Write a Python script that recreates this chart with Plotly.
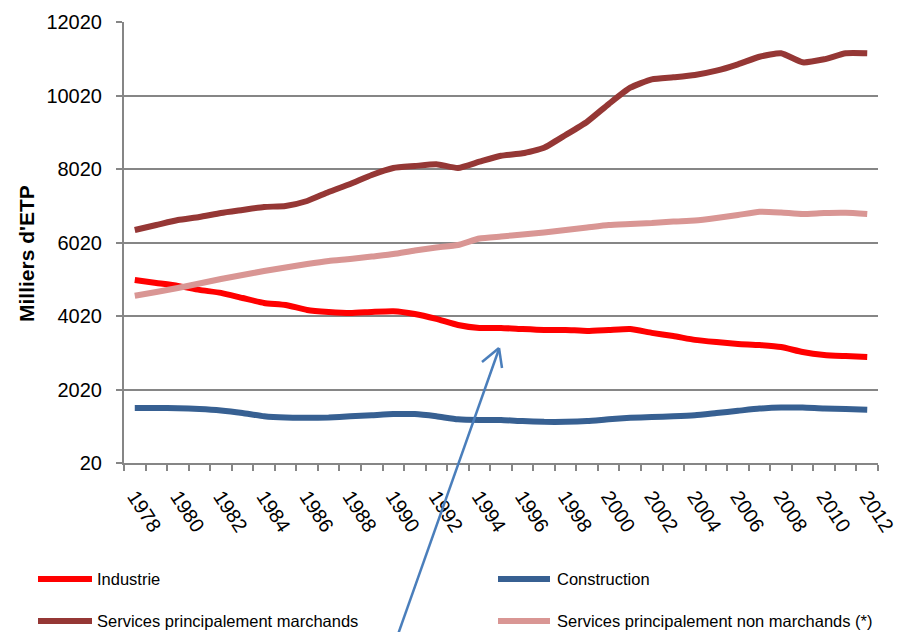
import plotly.graph_objects as go

years = list(range(1978, 2013))

industrie = [5000, 4920, 4840, 4730, 4650, 4510, 4375, 4320, 4185, 4130, 4100, 4130, 4150,
             4075, 3940, 3775, 3695, 3695, 3665, 3640, 3640, 3615, 3640, 3665, 3560, 3475,
             3370, 3310, 3260, 3230, 3175, 3040, 2960, 2930, 2905]

construction = [1517, 1517, 1510, 1490, 1450, 1380, 1290, 1255, 1250, 1260, 1290, 1320, 1350,
                1350, 1290, 1210, 1190, 1190, 1160, 1140, 1140, 1160, 1210, 1250, 1270, 1290,
                1320, 1380, 1440, 1500, 1530, 1530, 1500, 1490, 1470]

marchands = [6360, 6496, 6632, 6714, 6822, 6904, 6986, 7013, 7149, 7394, 7612, 7857, 8047,
             8101, 8150, 8047, 8219, 8382, 8447, 8599, 8945, 9307, 9788, 10232, 10460, 10515,
             10578, 10695, 10869, 11075, 11168, 10923, 11005, 11168, 11168]

non_marchands = [4572, 4673, 4782, 4904, 5027, 5136, 5244, 5340, 5435, 5517, 5571, 5639, 5707,
                 5802, 5884, 5952, 6129, 6183, 6238, 6292, 6360, 6428, 6496, 6523, 6550, 6591,
                 6618, 6686, 6768, 6858, 6836, 6795, 6823, 6830, 6795]

series_names = ["Industrie", "Construction", "Services principalement marchands",
                "Services principalement non marchands (*)"]
series_values = [industrie, construction, marchands, non_marchands]
series_colors = ["#FF0000", "#376092", "#953735", "#D99694"]

y_tick_vals = [20, 2020, 4020, 6020, 8020, 10020, 12020]
y_tick_text = ["20", "2020", "4020", "6020", "8020", "10020", "12020"]
x_tick_vals = list(range(1978, 2013, 2))
x_tick_text = [str(y) for y in x_tick_vals]

W, H = 899, 632
L, R, T, B = 124, 878, 22, 463
GRAY = "#868686"
FONT = "Liberation Sans, Arial, sans-serif"


def px(x):
    return (x - L) / (R - L)


def py(y):
    return (B - y) / (B - T)


fig = go.Figure()
for name, vals, col in zip(series_names, series_values, series_colors):
    fig.add_trace(go.Scatter(x=years, y=vals, mode="lines", name=name,
                             line=dict(color=col, width=6, shape="spline", smoothing=0.5),
                             showlegend=False))

shapes = []
annotations = []
# manual legend
legend_pos = [(38, 92, 95, 579), (498, 550, 555, 579), (38, 92, 95, 621), (498, 550, 555, 621)]
for (x0, x1, xt, yy), name, col in zip(legend_pos, series_names, series_colors):
    shapes.append(dict(type="line", xref="paper", yref="paper", x0=px(x0), x1=px(x1),
                       y0=py(yy), y1=py(yy), line=dict(color=col, width=6)))
    annotations.append(dict(xref="paper", yref="paper", x=px(xt), y=py(yy), text=name,
                            showarrow=False, xanchor="left", yanchor="middle",
                            font=dict(family=FONT, size=16.5, color="#000000")))

# blue arrow
ac = "#4A7EBB"
shapes.append(dict(type="line", xref="paper", yref="paper", x0=px(396), y0=py(640),
                   x1=px(499), y1=py(349), line=dict(color=ac, width=2.5)))
shapes.append(dict(type="line", xref="paper", yref="paper", x0=px(482), y0=py(362),
                   x1=px(499), y1=py(348), line=dict(color=ac, width=2.5)))
shapes.append(dict(type="line", xref="paper", yref="paper", x0=px(502), y0=py(368),
                   x1=px(499), y1=py(348), line=dict(color=ac, width=2.5)))

annotations.append(dict(xref="paper", yref="paper", x=px(26), y=py(254), text="<b>Milliers d'ETP</b>",
                        textangle=-90, showarrow=False, xanchor="center", yanchor="middle",
                        font=dict(family=FONT, size=21, color="#000000")))

fig.update_layout(
    width=W, height=H,
    margin=dict(l=L, r=W - R, t=T, b=H - B, pad=0, autoexpand=False),
    plot_bgcolor="white", paper_bgcolor="white",
    shapes=shapes, annotations=annotations,
    showlegend=False,
    font=dict(family=FONT, color="#000000"),
)
fig.update_xaxes(range=[1977.5, 2012.5], tickmode="array", tickvals=x_tick_vals, ticktext=x_tick_text,
                 tickangle=57, ticks="", showgrid=False, showline=True, linecolor=GRAY, linewidth=2,
                 tickfont=dict(family=FONT, size=20, color="#000000"), ticklabelstandoff=12,
                 minor=dict(tick0=1977.5, dtick=1, ticks="outside", ticklen=6, tickcolor=GRAY,
                            tickwidth=2, showgrid=False),
                 zeroline=False, fixedrange=True, automargin=False)
fig.update_yaxes(range=[20, 12020], tickmode="array", tickvals=y_tick_vals, ticktext=y_tick_text,
                 ticks="outside", ticklen=6, tickcolor=GRAY, tickwidth=2,
                 showgrid=True, gridcolor=GRAY, gridwidth=2,
                 showline=True, linecolor=GRAY, linewidth=2, zeroline=False,
                 tickfont=dict(family=FONT, size=20, color="#000000"), ticklabelstandoff=10,
                 fixedrange=True, automargin=False)

fig.write_html("out.html", config={"displayModeBar": False},
               post_script="document.body.style.margin='0px';document.body.style.padding='0px';")
